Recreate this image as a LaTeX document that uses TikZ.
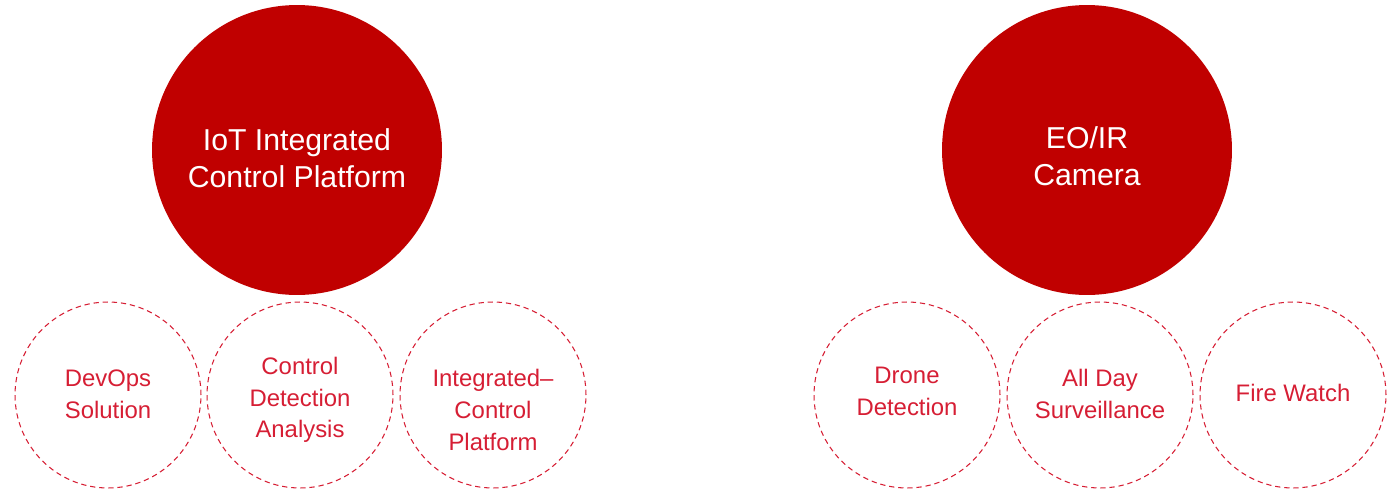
\documentclass[tikz,border=0pt]{standalone}
\usepackage{fontspec}
\setmainfont{Liberation Sans}
\definecolor{rojo}{RGB}{192,0,0}
\definecolor{carmin}{RGB}{214,30,52}

\begin{document}
\begin{tikzpicture}[   % opciones por defecto
      x=0.02cm, y=-0.02cm, % un pixel de la imagen
      font=\fontsize{13.6pt}{18.1pt}\selectfont
    ]
    \tikzstyle{big}=[circle, fill=rojo, minimum size=5.8cm, inner sep=0pt];
    \tikzstyle{bigtext}=[text=white, align=center, font=\fontsize{17.2pt}{21pt}\selectfont];
    \tikzstyle{small}=[circle, draw=carmin, dash pattern=on 3pt off 2.2pt, line width=0.6pt,
      minimum size=3.72cm, inner sep=0pt];
    \tikzstyle{smalltext}=[text=carmin, align=center];
    %
    \useasboundingbox (0,0) rectangle (1399,490);
    %
    % circulos principales (texto algo mas abajo del centro)
    \node [big, label={[bigtext, yshift=-0.17cm]center:IoT Integrated\\Control Platform}] (iot) at (297,150) {};
    \node [big, label={[bigtext, yshift=-0.12cm]center:EO/IR\\Camera}] (cam) at (1087,150) {};
    %
    % circulos de la plataforma
    \node [small, label={[smalltext, yshift=0.02cm]center:DevOps\\Solution}] (devops) at (108,395) {};
    \node [small, label={[smalltext, yshift=-0.1cm]center:Control\\Detection\\Analysis}] (cda) at (300,395) {};
    \node [small, label={[smalltext, yshift=-0.3cm]center:Integrated--\\Control\\Platform}] (icp) at (493,395) {};
    %
    % circulos de la camara
    \node [small, label={[smalltext, yshift=0.08cm]center:Drone\\Detection}] (drone) at (907,395) {};
    \node [small, label={[smalltext, yshift=0.02cm]center:All Day\\Surveillance}] (allday) at (1100,395) {};
    \node [small, label={[smalltext, yshift=0.04cm]center:Fire Watch}] (fire) at (1293,395) {};
  \end{tikzpicture}
\end{document}
